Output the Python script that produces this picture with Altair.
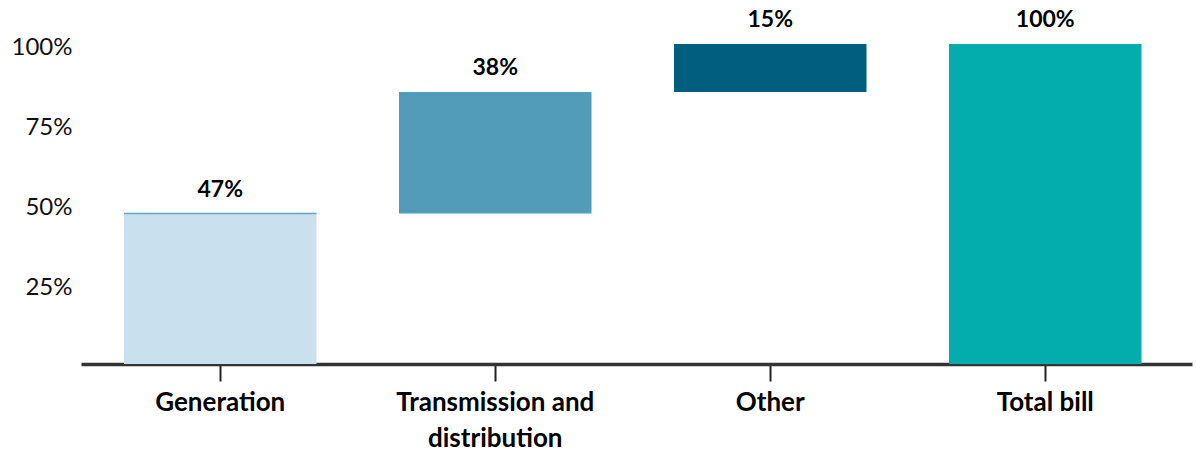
import altair as alt
import pandas as pd

categories = ["Generation", "Transmission and distribution", "Other", "Total bill"]
starts = [0, 47, 85, 0]
ends = [47, 85, 100, 100]
labels = ["47%", "38%", "15%", "100%"]
colors = ["#c9e1ee", "#529cb9", "#005e7f", "#03adad"]

df = pd.DataFrame({
    "category": categories,
    "start": starts,
    "end": ends,
    "label": labels,
    "color": colors,
})

FONT = "Lato"

x_enc = alt.X(
    "category:N",
    sort=categories,
    scale=alt.Scale(paddingInner=0.3, paddingOuter=0.17, align=0.46),
    axis=alt.Axis(
        title=None,
        labelAngle=0,
        labelFont=FONT,
        labelFontSize=26,
        labelFontWeight="bold",
        labelColor="#000000",
        labelPadding=8,
        labelLineHeight=36,
        labelLimit=400,
        labelExpr="datum.label == 'Transmission and distribution' ? ['Transmission and', 'distribution'] : datum.label",
        domainColor="#333333",
        domainWidth=3.5,
        tickColor="#222222",
        tickWidth=2,
        tickSize=17,
    ),
)

bars = alt.Chart(df).mark_bar().encode(
    x=x_enc,
    y=alt.Y(
        "start:Q",
        scale=alt.Scale(domain=[0, 100], nice=False),
        axis=alt.Axis(
            title=None,
            values=[25, 50, 75, 100],
            labelExpr="datum.value + '%'",
            labelFont=FONT,
            labelFontSize=24,
            labelColor="#111111",
            labelPadding=9,
            labelOffset=3,
            domain=False,
            ticks=False,
            grid=False,
        ),
    ),
    y2="end:Q",
    color=alt.Color("color:N", scale=None),
)

top_line = alt.Chart(df[df["category"] == "Generation"]).mark_tick(
    orient="horizontal", size=192.5, thickness=1.5, color="#5eaabf", opacity=1
).encode(
    x=alt.X("category:N", sort=categories),
    y="end:Q",
)

text = alt.Chart(df).mark_text(
    font=FONT, fontSize=23, fontWeight="bold", color="#000000",
    baseline="middle", align="center", dy=-24,
).encode(
    x=alt.X("category:N", sort=categories),
    y="end:Q",
    text="label:N",
)

chart = alt.layer(bars, top_line, text).properties(
    width=1111,
    height=320,
    background="#ffffff",
    autosize=alt.AutoSizeParams(type="none"),
    padding={"left": 81, "top": 44, "right": 4, "bottom": 87},
).configure_view(strokeWidth=0, stroke=None)

chart.save("out.html", embed_options={"renderer": "svg", "actions": False})
